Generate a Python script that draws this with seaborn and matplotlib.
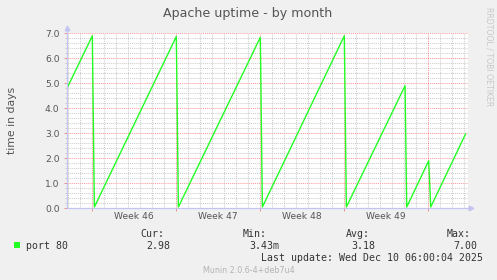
import numpy as np
import pandas as pd
import matplotlib
matplotlib.use("Agg")
import matplotlib.pyplot as plt
import seaborn as sns

# ---- data (days since left edge of graph, uptime in days) ----
days = [0.0, 2.11, 2.28, 9.11, 9.28, 16.11, 16.28, 23.11, 23.28, 28.17, 28.31, 30.14, 30.31, 33.22]
uptime = [4.8, 6.9, 0.05, 6.87, 0.05, 6.84, 0.05, 6.9, 0.05, 4.9, 0.05, 1.9, 0.05, 2.98]
week_starts = [2.06, 9.06, 16.06, 23.06, 30.06]
week_labels = ["Week 46", "Week 47", "Week 48", "Week 49"]
y_ticks = [0, 1, 2, 3, 4, 5, 6, 7]
legend_name = "port 80"
stat_heads = ["Cur:", "Min:", "Avg:", "Max:"]
stat_vals = ["2.98", "3.43m", "3.18", "7.00"]
title = "Apache uptime - by month"
ylabel = "time in days"
last_update = "Last update: Wed Dec 10 06:00:04 2025"
version = "Munin 2.0.6-4+deb7u4"
side_text = "RRDTOOL / TOBI OETIKER"

df = pd.DataFrame({"day": days, "uptime": uptime})

sns.set_style("white")
plt.rcParams["font.family"] = ["DejaVu Sans"]

W, H = 497, 280
BG = "#f0f0f0"
GREEN = "#22ff22"
AXC = "#c4c4f0"
TXT = "#555555"

fig = plt.figure(figsize=(W / 100, H / 100), dpi=100, facecolor=BG)

def fx(px):
    return px / W

def fy(py):
    return 1 - py / H

left, right, top, bottom = 67, 468, 33.3, 208.3
ax = fig.add_axes([fx(left), fy(bottom), (right - left) / W, (bottom - top) / H])
ax.set_facecolor("white")

xmax = (right - left) / 12.0
ax.set_xlim(0, xmax)
ax.set_ylim(0, 7)

# grid
for yv in np.arange(0, 7.001, 0.2):
    major = abs(yv - round(yv)) < 1e-6
    if yv < 1e-6:
        continue
    ax.axhline(yv, color="#ff0000" if major else "#c8c8c8",
               alpha=0.4 if major else 0.9, lw=0.75,
               ls=(0, (1, 1)), zorder=1)
for k in range(0, 34):
    xv = 0.06 + k
    if xv > xmax:
        break
    major = any(abs(xv - w) < 1e-6 for w in week_starts)
    ax.axvline(xv, color="#ff0000" if major else "#c8c8c8",
               alpha=0.4 if major else 0.9, lw=0.75,
               ls=(0, (1, 1)), zorder=1)

sns.lineplot(data=df, x="day", y="uptime", color=GREEN, linewidth=1.0,
             ax=ax, estimator=None, sort=False, zorder=3)

# axes styling
for s in ["top", "right"]:
    ax.spines[s].set_visible(False)
for s in ["left", "bottom"]:
    ax.spines[s].set_color(AXC)
    ax.spines[s].set_linewidth(0.9)
    ax.spines[s].set_zorder(4)

# arrows on axes
ax.plot([0, 0], [1, 1.03], transform=ax.transAxes, color=AXC, lw=0.9, clip_on=False, zorder=4)
ax.plot([0], [1.03], marker="^", ms=3.3, color=AXC, transform=ax.transAxes, clip_on=False, zorder=4)
ax.plot([1, 1.008], [0, 0], transform=ax.transAxes, color=AXC, lw=0.9, clip_on=False, zorder=4)
ax.plot([1.008], [0], marker=">", ms=3.3, color=AXC, transform=ax.transAxes, clip_on=False, zorder=4)

ax.set_yticks(y_ticks)
ax.set_yticklabels([f"{v:.1f}" for v in y_ticks])
ax.set_yticks(np.arange(0, 7.001, 0.2), minor=True)
mids = [(week_starts[i] + week_starts[i + 1]) / 2 for i in range(len(week_labels))]
ax.set_xticks(mids)
ax.set_xticklabels(week_labels)
ax.set_xticks(week_starts, minor=True)
ax.tick_params(axis="y", which="major", length=2.2, width=0.7, color="#e89090",
               pad=3.2, labelsize=6.6, labelcolor=TXT, direction="out", left=True)
ax.tick_params(axis="y", which="minor", length=1.5, width=0.7, color="#c8c8c8",
               direction="out", left=True)
ax.tick_params(axis="x", which="major", length=0, pad=3.0, labelsize=6.6,
               labelcolor=TXT, bottom=True)
ax.tick_params(axis="x", which="minor", length=2.2, width=0.7, color="#e89090",
               direction="out", bottom=True)
ax.set_xlabel("")
ax.set_ylabel("")

# title and labels
fig.text(fx(248), fy(17.3), title, ha="center", va="baseline", fontsize=9.1, color=TXT)
fig.text(fx(12), fy(120), ylabel, ha="center", va="center", rotation=90, fontsize=7.8, color=TXT)
fig.text(fx(488.5), fy(57), side_text, ha="center", va="center", rotation=270,
         fontsize=5.6, color="#c8c8c8")

# legend
MONO = "DejaVu Sans Mono"
LTXT = "#333333"
fig.patches.append(plt.Rectangle((fx(14), fy(248)), 6 / W, 6 / H, transform=fig.transFigure,
                                 facecolor=GREEN, edgecolor="none"))
fig.text(fx(26.5), fy(249), legend_name, ha="left", va="baseline", fontsize=7.1,
         family=MONO, color=LTXT)
head_x = [140, 243, 346, 447]
val_right = [170, 279, 375, 477]
for hx, h in zip(head_x, stat_heads):
    fig.text(fx(hx), fy(237.3), h, ha="left", va="baseline", fontsize=7.1, family=MONO, color=LTXT)
for vx, v in zip(val_right, stat_vals):
    fig.text(fx(vx), fy(249), v, ha="right", va="baseline", fontsize=7.1, family=MONO, color=LTXT)
fig.text(fx(483), fy(260.7), last_update, ha="right", va="baseline", fontsize=7.1,
         family=MONO, color=LTXT)
fig.text(fx(249), fy(272.7), version, ha="center", va="baseline", fontsize=5.75, color="#b4b4b4")

fig.savefig("out.png", dpi=100, facecolor=BG)
